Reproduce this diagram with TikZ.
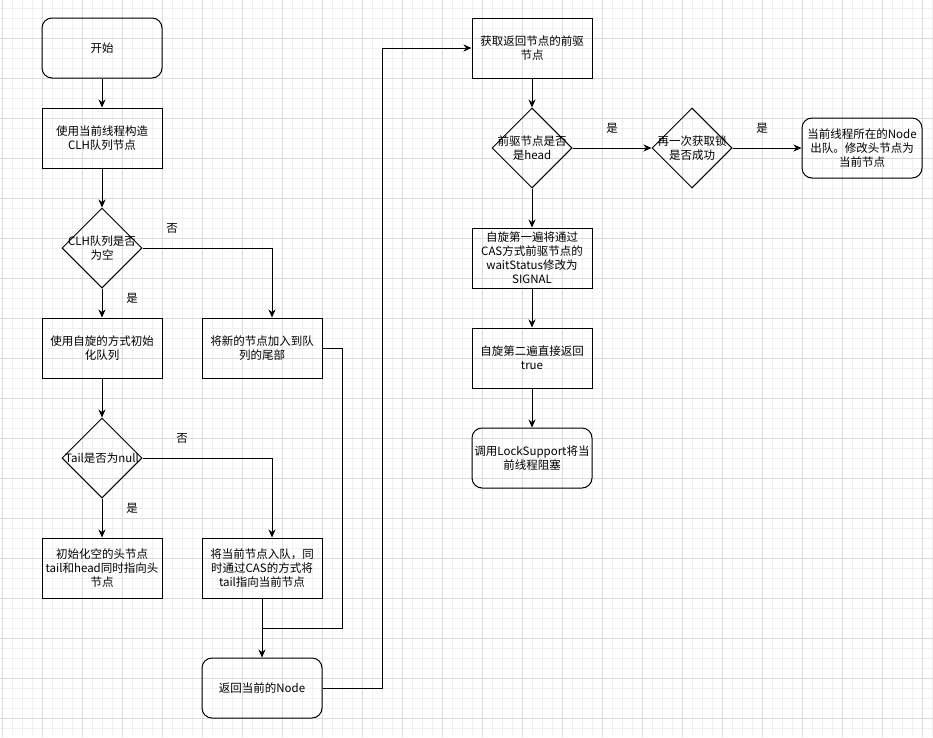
\documentclass[tikz,border=0pt]{standalone}
\usepackage{fontspec}
\setmainfont{Noto Sans CJK SC}
\usetikzlibrary{shapes.geometric,arrows.meta}

\tikzset{
  minorgrid/.style={line width=0.6pt,black!6},
  majorgrid/.style={line width=0.8pt,black!14},
  box/.style={draw,line width=1pt,minimum width=120pt,minimum height=60pt,inner sep=1pt,align=center,font=\fontsize{11.5}{14}\selectfont},
  roundbox/.style={box,rounded corners=10pt},
  dia/.style={draw,line width=1pt,shape=diamond,aspect=1,minimum width=80pt,minimum height=80pt,inner sep=0pt},
  diatext/.style={align=center,inner sep=0pt,font=\fontsize{11.5}{14}\selectfont},
  lbl/.style={font=\fontsize{11.5}{14}\selectfont},
  arr/.style={line width=1pt,-{Stealth[length=8pt,width=7pt,inset=2.5pt]}},
  seg/.style={line width=1pt}
}

\begin{document}
\begin{tikzpicture}[x=1pt,y=-1pt]
\useasboundingbox (0,0) rectangle (933,737);
\fill[white] (0,0) rectangle (933,737);

% background grid
\foreach \x in {2,12,...,932} {
\draw[minorgrid] (\x,0) -- (\x,737);
}
\foreach \y in {8,18,...,736} {
\draw[minorgrid] (0,\y) -- (933,\y);
}
\foreach \x in {2,42,...,932} {
\draw[majorgrid] (\x,0) -- (\x,737);
}
\foreach \y in {38,78,...,736} {
\draw[majorgrid] (0,\y) -- (933,\y);
}

% left column
\node[roundbox] (start) at (102,48) {开始};
\node[box] (clhnode) at (102,138) {使用当前线程构造\\CLH队列节点};
\node[dia] (isempty) at (102,248) {};
\node[diatext] at (isempty) {CLH队列是否\\为空};
\node[box] (initq) at (102,348) {使用自旋的方式初始\\化队列};
\node[box] (addtail) at (262,348) {将新的节点加入到队\\列的尾部};
\node[dia] (tailnull) at (102,458) {};
\node[diatext] at (tailnull) {Tail是否为null};
\node[box] (inithead) at (102,568) {初始化空的头节点\\tail和head同时指向头\\节点};
\node[box] (enqueue) at (262,568) {将当前节点入队，同\\时通过CAS的方式将\\tail指向当前节点};
\node[roundbox] (retnode) at (262,688) {返回当前的Node};

% right column
\node[box] (getpred) at (532,48) {获取返回节点的前驱\\节点};
\node[dia] (ishead) at (532,148) {};
\node[diatext] at (ishead) {前驱节点是否\\是head};
\node[dia] (trylock) at (692,148) {};
\node[diatext] at (trylock) {再一次获取锁\\是否成功};
\node[roundbox] (dequeue) at (862,148) {当前线程所在的Node\\出队。修改头节点为\\当前节点};
\node[box] (spinone) at (532,258) {自旋第一遍将通过\\CAS方式前驱节点的\\waitStatus修改为\\SIGNAL};
\node[box] (spintwo) at (532,358) {自旋第二遍直接返回\\true};
\node[roundbox] (park) at (532,458) {调用LockSupport将当\\前线程阻塞};

% labels
\node[lbl] (no1) at (172,228) {否};
\node[lbl] (yes1) at (132,298) {是};
\node[lbl] (no2) at (182,438) {否};
\node[lbl] (yes2) at (132,508) {是};
\node[lbl] (yes3) at (612,128) {是};
\node[lbl] (yes4) at (762,128) {是};

\coordinate (join) at (262,628);

% connectors
\draw[arr] (start) -- (clhnode);
\draw[arr] (clhnode) -- (isempty);
\draw[arr] (isempty) -- (initq);
\draw[arr] (isempty.east) -| ([xshift=10pt]addtail.north);
\draw[arr] (initq) -- (tailnull);
\draw[arr] (tailnull) -- (inithead);
\draw[arr] (tailnull.east) -| ([xshift=10pt]enqueue.north);
\draw[arr] (enqueue) -- (retnode);
\draw[seg] (addtail.east) -- ++(20,0) |- (join);
\draw[arr] (retnode.east) -- ++(60,0) |- (getpred.west);
\draw[arr] (getpred) -- (ishead);
\draw[arr] (ishead) -- (trylock);
\draw[arr] (trylock) -- (dequeue);
\draw[arr] (ishead) -- (spinone);
\draw[arr] (spinone) -- (spintwo);
\draw[arr] (spintwo) -- (park);
\end{tikzpicture}
\end{document}
